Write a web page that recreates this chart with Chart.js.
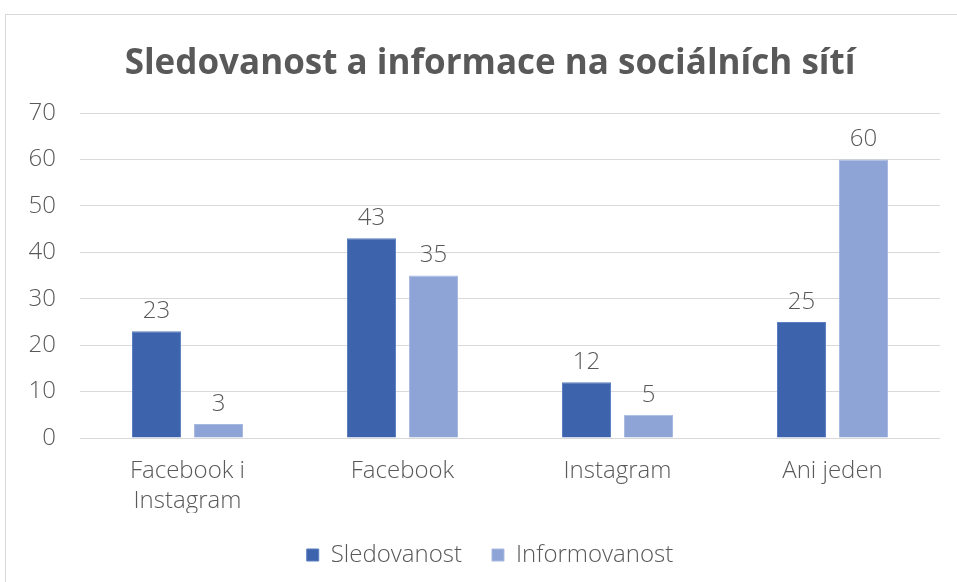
<!DOCTYPE html>
<html>
<head>
<meta charset="utf-8">
<script src="https://cdn.jsdelivr.net/npm/chart.js@4"></script>
<style>
  html, body { margin: 0; padding: 0; background: #fff; overflow: hidden; }
  #wrap {
    position: absolute; left: 5px; top: 14px;
    width: 972px; height: 580px;
    border: 1px solid #d9d9d9; box-sizing: border-box;
  }
  #chart { display: block; }
</style>
</head>
<body>
<div id="wrap"><canvas id="chart" width="970" height="578"></canvas></div>
<script>
const categories = [["Facebook i", "Instagram"], "Facebook", "Instagram", "Ani jeden"];
const sledovanost = [23, 43, 12, 25];
const informovanost = [3, 35, 5, 60];
const yTicks = [0, 10, 20, 30, 40, 50, 60, 70];

const textColor = "#595959";
const fontFamily = "'Open Sans', 'Noto Sans', sans-serif";

// draw value labels above each bar
const valueLabels = {
  id: "valueLabels",
  afterDatasetsDraw(chart) {
    const ctx = chart.ctx;
    ctx.save();
    ctx.font = "300 24px " + fontFamily;
    ctx.fillStyle = textColor;
    ctx.textAlign = "center";
    ctx.textBaseline = "bottom";
    chart.data.datasets.forEach((ds, i) => {
      chart.getDatasetMeta(i).data.forEach((bar, j) => {
        ctx.fillText(ds.data[j], bar.x, bar.y - 8);
      });
    });
    ctx.restore();
  }
};

new Chart(document.getElementById("chart"), {
  type: "bar",
  data: {
    labels: categories,
    datasets: [
      {
        label: "Sledovanost",
        data: sledovanost,
        backgroundColor: "#3c63ac",
        borderColor: "#5b7fc0",
        borderWidth: 1,
      },
      {
        label: "Informovanost",
        data: informovanost,
        backgroundColor: "#8fa4d6",
        borderColor: "#a8b9e0",
        borderWidth: 1,
      },
    ],
  },
  options: {
    responsive: false,
    animation: false,
    categoryPercentage: 0.577,
    barPercentage: 0.79,
    layout: { padding: { left: 20, right: 22, top: 28, bottom: 16 } },
    plugins: {
      title: {
        display: true,
        text: "Sledovanost a informace na sociálních sítí",
        color: textColor,
        font: { family: fontFamily, size: 35, weight: "bold", lineHeight: 1.2 },
        padding: { top: 0, bottom: 28 },
      },
      legend: {
        position: "bottom",
        labels: {
          color: textColor,
          font: { family: fontFamily, size: 24, weight: "300" },
          boxWidth: 12,
          boxHeight: 12,
          padding: 30,
        },
      },
      tooltip: { enabled: false },
    },
    scales: {
      y: {
        min: 0,
        max: 70,
        afterBuildTicks: (s) => { s.ticks = yTicks.map((v) => ({ value: v })); },
        afterFit: (s) => { s.width = 54; },
        border: { display: false },
        grid: { color: "#d9d9d9", lineWidth: 1, drawTicks: false },
        ticks: {
          color: textColor,
          font: { family: fontFamily, size: 24, weight: "300" },
          padding: 24,
        },
      },
      // empty spacer on the right so the title and legend sit centred like the original
      spacer: {
        position: "right",
        afterFit: (s) => { s.width = 14; },
        border: { display: false },
        grid: { display: false },
        ticks: { display: false },
      },
      x: {
        afterFit: (s) => { s.height -= 21; },
        border: { display: false },
        grid: { display: false, drawTicks: false },
        ticks: {
          color: textColor,
          font: { family: fontFamily, size: 24, weight: "300", lineHeight: 1.25 },
          padding: 18,
        },
      },
    },
  },
  plugins: [valueLabels],
});
</script>
</body>
</html>
